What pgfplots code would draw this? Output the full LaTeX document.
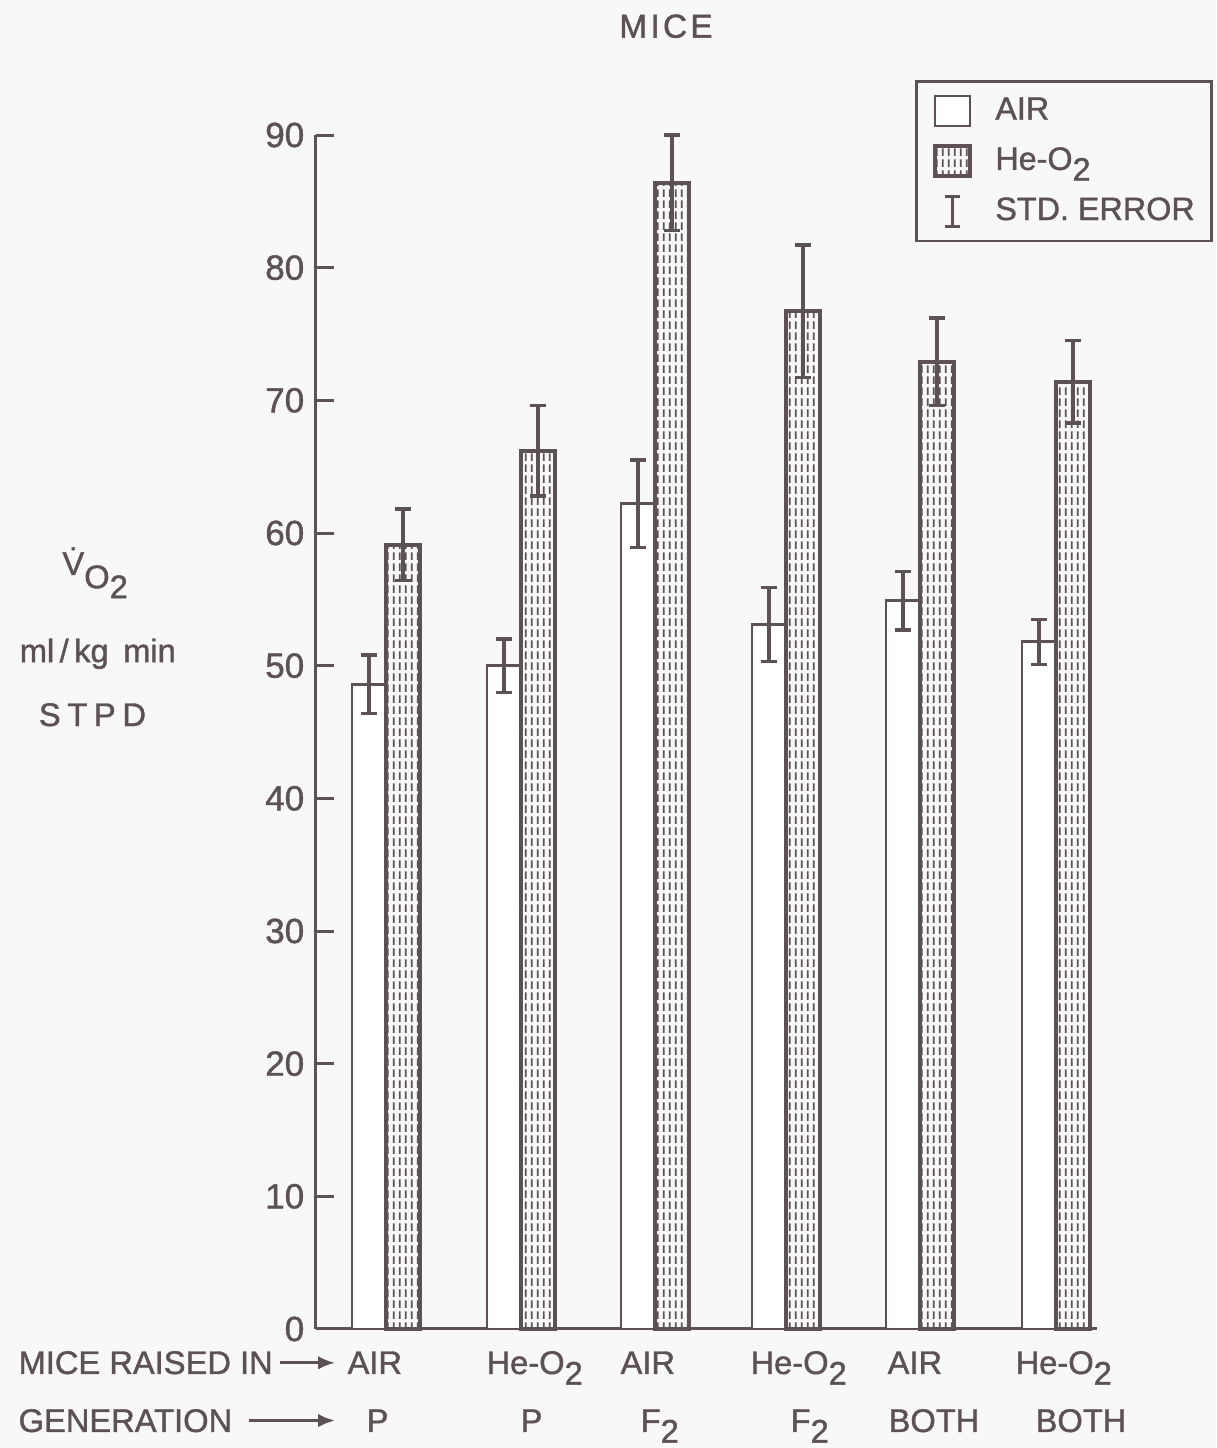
\documentclass[border=0pt]{standalone}
\usepackage{fontspec}
\setmainfont{Liberation Sans}[FakeBold=1.2]
\usepackage{pgfplots}
\usepackage{pgfplotstable}
\pgfplotsset{compat=1.18}
\usetikzlibrary{patterns,arrows.meta}
\definecolor{ink}{RGB}{92,82,86}
\definecolor{bg}{RGB}{248,248,246}

\pgfdeclarepatternformonly{vdash}{\pgfpointorigin}{\pgfpoint{1.7pt}{3.2pt}}{\pgfpoint{1.7pt}{3.2pt}}{%
  \pgfsetlinewidth{0.55pt}%
  \pgfpathmoveto{\pgfpoint{0.85pt}{0.35pt}}%
  \pgfpathlineto{\pgfpoint{0.85pt}{2.65pt}}%
  \pgfusepath{stroke}}

\newcommand\sub[1]{\raisebox{-3.2pt}{#1}}

% x = centre of each bar (group centre -/+ half a bar width)
\pgfplotstableread{
x     y     e
-0.127 48.6  2.2
0.880  50.0  2.0
1.880  62.2  3.3
2.858  53.1  2.8
3.858  54.9  2.2
4.873  51.8  1.7
}\airdata

\pgfplotstableread{
x     y     e
0.127  59.1  2.7
1.134  66.2  3.4
2.134  86.4  3.6
3.112  76.7  5.0
4.112  72.9  3.3
5.127  71.4  3.1
}\hedata

\begin{document}
\begin{tikzpicture}
\fill[bg] (-94.8pt,-35.7pt) rectangle (270pt,398.7pt);
\useasboundingbox (-94.8pt,-35.7pt) rectangle (270pt,398.7pt);
\begin{axis}[
  at={(0,0)}, anchor=south west, scale only axis,
  width=234.3pt, height=358.2pt,
  xmin=-0.522, xmax=5.306, ymin=0, ymax=90,
  axis lines*=left,
  axis line style={ink, line width=0.9pt},
  xtick=\empty,
  ytick={0,10,...,90},
  tick align=inside,
  major tick length=5.4pt,
  tick style={ink, line width=0.9pt},
  yticklabel style={font=\fontsize{10.5}{12}\selectfont, text=ink},
  /pgf/number format/assume math mode=true,
  clip=false,
  legend style={at={(0.767,1.046)}, anchor=north west, draw=ink, line width=0.8pt,
    fill=none, font=\fontsize{9.7}{11}\selectfont, text=ink,
    row sep=5pt, inner xsep=5pt, inner ysep=4pt,
    nodes={inner sep=0pt},
    /tikz/every odd column/.append style={column sep=7pt}},
  legend cell align=left,
]
\addplot[ybar, bar width=0.254, bar shift=0pt, draw=ink, fill=white, line width=0.8pt, forget plot,
  error bars/.cd, y dir=both, y explicit,
  error bar style={ink, line width=1pt},
  error mark options={rotate=90, mark size=2.3pt, ink, line width=1pt}]
  table[x=x, y=y, y error=e] {\airdata};
\addplot[ybar, bar width=0.254, bar shift=0pt, draw=ink, pattern=vdash, pattern color=ink, line width=1.2pt, forget plot,
  error bars/.cd, y dir=both, y explicit,
  error bar style={ink, line width=1pt},
  error mark options={rotate=90, mark size=2.3pt, ink, line width=1pt}]
  table[x=x, y=y, y error=e] {\hedata};

\addlegendimage{legend image code/.code={\draw[ink, fill=white, line width=0.8pt] (0pt,-4.5pt) rectangle (10.5pt,4.5pt);}}
\addlegendentry{AIR}
\addlegendimage{legend image code/.code={\draw[ink, pattern=vdash, pattern color=ink, line width=1.2pt] (0pt,-4.5pt) rectangle (10.5pt,4.5pt);}}
\addlegendentry{He-O\sub{2}}
\addlegendimage{legend image code/.code={\draw[ink, line width=0.9pt] (5.25pt,-4.5pt) -- (5.25pt,4.5pt) (3pt,-4.5pt) -- (7.5pt,-4.5pt) (3pt,4.5pt) -- (7.5pt,4.5pt);}}
\addlegendentry{STD. ERROR}

\begin{scope}[every node/.style={text=ink, inner sep=0pt, font=\fontsize{9.8}{11}\selectfont}]
\node[font=\fontsize{10}{12}\selectfont] at (axis cs:2.09,98.2) {M\kern1pt I\kern1pt C\kern1pt E};
\node at (axis cs:-2.17,57.0) {\.{V}\raisebox{-4pt}{O\raisebox{-3pt}{2}}};
\node at (axis cs:-2.15,50.9) {ml\,/\,kg\, min};
\node at (axis cs:-2.19,46.3) {S\kern2pt T\kern2pt P\kern2pt D};
\node[anchor=base west] at (axis cs:-2.746,-3.39) {MICE RAISED IN};
\node[anchor=base west] at (axis cs:-2.746,-7.76) {GENERATION};
\draw[ink, line width=0.8pt, -{Latex[length=5pt,width=4pt]}] (axis cs:-0.79,-2.55) -- (axis cs:-0.381,-2.55);
\draw[ink, line width=0.8pt, -{Latex[length=5pt,width=4pt]}] (axis cs:-1.02,-6.9) -- (axis cs:-0.381,-6.9);
\node[anchor=base west] at (axis cs:-0.291,-3.39) {AIR};
\node[anchor=base west] at (axis cs:0.746,-3.39) {He-O\sub{2}};
\node[anchor=base west] at (axis cs:1.746,-3.39) {AIR};
\node[anchor=base west] at (axis cs:2.716,-3.39) {He-O\sub{2}};
\node[anchor=base west] at (axis cs:3.739,-3.39) {AIR};
\node[anchor=base west] at (axis cs:4.694,-3.39) {He-O\sub{2}};
\node[anchor=base west] at (axis cs:-0.149,-7.76) {P};
\node[anchor=base west] at (axis cs:1.0,-7.76) {P};
\node[anchor=base west] at (axis cs:1.896,-7.76) {F\sub{2}};
\node[anchor=base west] at (axis cs:3.015,-7.76) {F\sub{2}};
\node[anchor=base west] at (axis cs:3.746,-7.76) {BOTH};
\node[anchor=base west] at (axis cs:4.843,-7.76) {BOTH};
\end{scope}
\end{axis}
\end{tikzpicture}
\end{document}
